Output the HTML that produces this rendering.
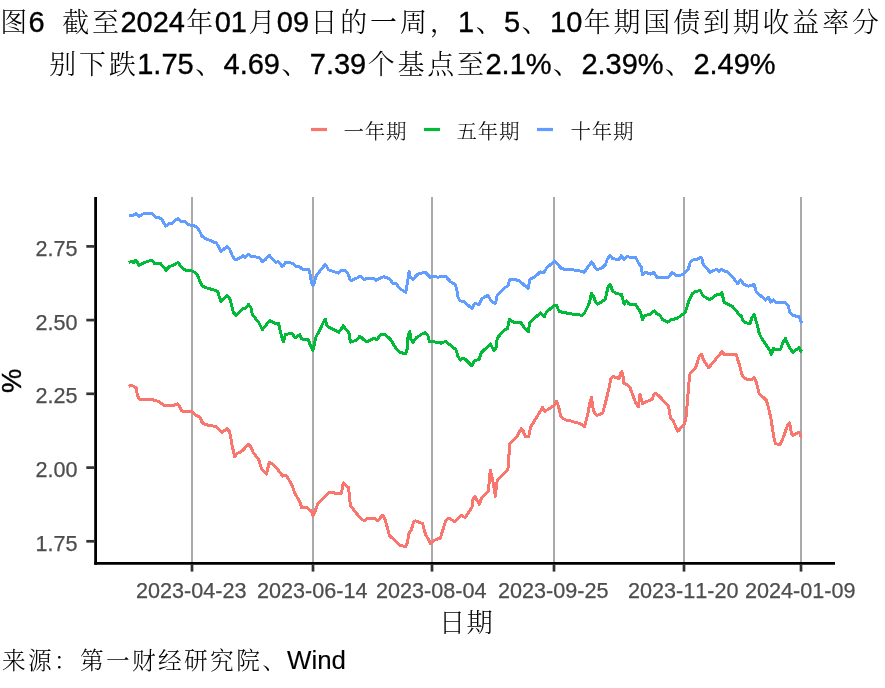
<!DOCTYPE html>
<html lang="zh-CN"><head><meta charset="utf-8"><title>图6</title>
<style>
html,body{margin:0;padding:0;background:#fff;}
body{width:885px;height:688px;overflow:hidden;position:relative;font-family:"Liberation Sans","Noto Serif CJK SC",sans-serif;}
svg{position:absolute;left:0;top:0;display:block}
svg text{font-family:"Liberation Sans","Noto Serif CJK SC",sans-serif;font-kerning:none;font-variant-ligatures:none;white-space:pre;}
.c{font-weight:300}
.t{font-size:29.45px;fill:#000;color:#000}
.ax{font-size:21.6px;fill:#4d4d4d;color:#4d4d4d;stroke:#4d4d4d;stroke-width:0.25px}
.lg{font-size:21.33px;fill:#000}
.cap{font-size:25.9px;fill:#000;color:#000}
</style></head><body>
<svg width="885" height="688" viewBox="0 0 885 688">
<rect width="885" height="688" fill="#fff"/>
<g class="t">
<text x="-1.3" y="32"><tspan class="c" dx="1.44" style="font-size:26.95px;letter-spacing:2.87px">图</tspan><tspan dx="-1.44" style="font-size:29.00px" stroke="currentColor" stroke-width="0.35">6  </tspan><tspan class="c" dx="1.44" style="font-size:26.95px;letter-spacing:2.87px">截至</tspan><tspan dx="-1.44" style="font-size:29.00px" stroke="currentColor" stroke-width="0.35">2024</tspan><tspan class="c" dx="1.44" style="font-size:26.95px;letter-spacing:2.87px">年</tspan><tspan dx="-1.44" style="font-size:29.00px" stroke="currentColor" stroke-width="0.35">01</tspan><tspan class="c" dx="1.44" style="font-size:26.95px;letter-spacing:2.87px">月</tspan><tspan dx="-1.44" style="font-size:29.00px" stroke="currentColor" stroke-width="0.35">09</tspan><tspan class="c" dx="1.44" style="font-size:26.95px;letter-spacing:2.87px">日的一周，</tspan><tspan dx="-1.44" style="font-size:29.00px" stroke="currentColor" stroke-width="0.35">1</tspan><tspan class="c" dx="1.44" style="font-size:26.95px;letter-spacing:2.87px">、</tspan><tspan dx="-1.44" style="font-size:29.00px" stroke="currentColor" stroke-width="0.35">5</tspan><tspan class="c" dx="1.44" style="font-size:26.95px;letter-spacing:2.87px">、</tspan><tspan dx="-1.44" style="font-size:29.00px" stroke="currentColor" stroke-width="0.35">10</tspan><tspan class="c" dx="1.44" style="font-size:26.95px;letter-spacing:2.87px">年期国债到期收益率分</tspan></text>
<text x="47.8" y="74.3"><tspan class="c" dx="1.44" style="font-size:26.95px;letter-spacing:2.87px">别下跌</tspan><tspan dx="-1.44" style="font-size:29.00px" stroke="currentColor" stroke-width="0.35">1.75</tspan><tspan class="c" dx="1.44" style="font-size:26.95px;letter-spacing:2.87px">、</tspan><tspan dx="-1.44" style="font-size:29.00px" stroke="currentColor" stroke-width="0.35">4.69</tspan><tspan class="c" dx="1.44" style="font-size:26.95px;letter-spacing:2.87px">、</tspan><tspan dx="-1.44" style="font-size:29.00px" stroke="currentColor" stroke-width="0.35">7.39</tspan><tspan class="c" dx="1.44" style="font-size:26.95px;letter-spacing:2.87px">个基点至</tspan><tspan dx="-1.44" style="font-size:29.00px" stroke="currentColor" stroke-width="0.35">2.1%</tspan><tspan class="c" dx="1.44" style="font-size:26.95px;letter-spacing:2.87px">、</tspan><tspan dx="-1.44" style="font-size:29.00px" stroke="currentColor" stroke-width="0.35">2.39%</tspan><tspan class="c" dx="1.44" style="font-size:26.95px;letter-spacing:2.87px">、</tspan><tspan dx="-1.44" style="font-size:29.00px" stroke="currentColor" stroke-width="0.35">2.49%</tspan></text>
</g>
<g class="lg">
<line x1="311" y1="129.5" x2="327" y2="129.5" stroke="#F8766D" stroke-width="3.2"/>
<text x="343" y="138.6"><tspan class="c" dx="0.43" style="font-size:20.48px;letter-spacing:0.85px">一年期</tspan></text>
<line x1="424" y1="129.5" x2="440" y2="129.5" stroke="#00BA38" stroke-width="3.2"/>
<text x="456" y="138.6"><tspan class="c" dx="0.43" style="font-size:20.48px;letter-spacing:0.85px">五年期</tspan></text>
<line x1="537" y1="129.5" x2="553" y2="129.5" stroke="#619CFF" stroke-width="3.2"/>
<text x="570" y="138.6"><tspan class="c" dx="0.43" style="font-size:20.48px;letter-spacing:0.85px">十年期</tspan></text>
</g>
<line x1="192" y1="197" x2="192" y2="563" stroke="#aaaaaa" stroke-width="2"/><line x1="313" y1="197" x2="313" y2="563" stroke="#aaaaaa" stroke-width="2"/><line x1="432" y1="197" x2="432" y2="563" stroke="#aaaaaa" stroke-width="2"/><line x1="554" y1="197" x2="554" y2="563" stroke="#aaaaaa" stroke-width="2"/><line x1="684" y1="197" x2="684" y2="563" stroke="#aaaaaa" stroke-width="2"/><line x1="801" y1="197" x2="801" y2="563" stroke="#aaaaaa" stroke-width="2"/>
<polyline points="129.2,215.6 133.6,215.2 136.0,213.3 139.0,216.5 142.4,214.2 145.5,213.3 148.8,214.0 152.0,213.3 155.0,216.9 158.2,217.6 161.5,218.7 163.1,221.7 165.8,226.0 168.8,223.7 172.2,223.3 175.3,220.3 178.0,218.3 181.3,221.7 184.5,221.4 187.8,224.1 191.1,225.4 194.3,225.8 197.6,227.8 200.0,231.9 202.0,236.3 205.4,238.6 208.8,240.0 212.2,241.4 216.5,243.1 218.3,246.1 221.0,251.5 227.1,246.5 229.8,249.5 232.5,256.3 235.2,259.9 240.0,258.0 242.9,255.5 245.2,257.3 248.3,254.2 251.7,256.5 255.1,256.9 259.1,257.5 262.5,261.9 265.5,259.6 269.1,255.1 272.3,258.6 275.8,262.3 278.5,261.6 282.2,266.4 283.6,265.7 285.6,262.3 289.0,262.3 292.4,263.4 295.8,266.4 299.1,266.4 302.5,269.3 308.6,269.3 310.0,273.8 311.4,281.9 313.0,285.3 314.3,283.3 315.7,276.5 324.9,264.6 326.5,265.7 328.3,269.8 333.1,271.4 338.5,273.1 341.9,270.0 345.2,270.4 348.0,273.8 350.2,279.9 351.5,280.3 356.9,278.1 360.1,276.2 364.4,279.5 367.1,278.1 373.9,278.1 376.3,280.3 380.0,278.1 383.7,276.8 386.8,277.6 390.2,279.5 392.9,283.3 395.9,283.3 399.7,288.5 405.8,292.5 407.1,284.7 409.1,271.8 410.2,276.5 412.9,279.5 417.3,274.5 421.4,273.1 425.1,272.2 430.2,277.2 433.6,276.2 437.6,277.1 445.8,276.5 450.5,281.7 455.2,284.7 456.9,290.1 458.0,296.9 460.0,300.9 463.6,301.2 472.0,308.6 474.7,303.5 479.1,304.4 481.9,298.7 487.7,295.3 490.7,300.1 493.4,302.8 495.4,303.5 497.2,295.3 504.2,287.9 508.0,285.9 509.7,279.8 515.1,279.5 519.8,281.1 528.0,288.6 530.0,279.1 535.4,276.4 540.2,271.9 543.6,273.0 546.5,268.2 554.4,261.0 561.2,268.2 565.2,269.6 570.0,269.6 573.6,270.0 579.0,270.8 584.4,272.2 591.5,261.9 593.2,264.1 595.5,268.4 597.7,269.5 602.0,268.1 605.4,264.6 607.5,258.9 610.2,255.5 612.9,258.9 619.0,259.2 621.3,255.5 623.7,259.6 626.4,256.9 635.7,257.3 638.6,263.2 641.4,267.0 642.4,274.5 645.4,272.2 650.9,274.1 653.8,272.2 657.0,277.2 660.3,277.2 668.5,277.2 671.9,272.5 675.9,275.2 680.0,275.4 683.6,274.1 688.3,268.9 690.3,262.1 692.4,260.1 697.1,259.1 700.5,257.4 701.9,258.7 703.2,264.1 710.0,272.3 713.4,270.5 716.8,269.6 719.1,271.3 721.8,269.2 724.2,270.9 727.6,271.9 733.0,277.3 737.8,283.8 740.5,279.8 743.9,284.5 748.6,286.2 754.1,284.5 756.1,291.3 759.5,294.7 765.6,300.1 768.3,297.1 771.0,302.1 773.3,299.8 775.8,302.5 784.6,302.5 788.0,305.5 790.0,312.3 792.8,315.5 798.9,316.6 800.5,320.0 801.6,323.4" fill="none" stroke="#619CFF" stroke-width="3.0" stroke-linejoin="round" stroke-linecap="butt" shape-rendering="crispEdges"/>
<polyline points="128.8,262.6 131.5,261.3 133.6,262.4 136.0,260.1 139.0,265.4 142.4,263.5 145.8,262.1 148.8,261.0 152.0,260.3 155.0,264.0 158.2,263.5 160.7,263.7 166.1,270.2 169.5,266.4 172.9,265.4 178.0,262.4 181.0,266.4 184.4,269.8 187.8,270.5 191.1,270.5 194.3,272.1 197.6,275.2 200.0,281.4 202.0,285.7 205.4,287.5 212.2,289.5 217.6,291.1 219.0,295.8 221.0,301.5 227.1,295.5 230.1,299.1 233.2,312.0 235.9,315.4 243.1,308.6 245.4,308.0 248.5,304.6 250.8,307.3 252.2,314.1 259.0,322.9 262.4,329.7 269.8,320.4 274.3,323.1 278.6,323.6 281.4,335.8 283.4,341.9 285.4,334.4 292.2,333.5 294.9,337.8 299.7,334.8 301.7,338.9 308.5,339.8 310.5,345.9 312.8,350.7 314.6,343.2 315.9,337.1 320.0,329.7 323.3,322.3 325.2,319.1 326.9,325.5 330.3,328.0 338.8,332.3 343.2,325.9 346.6,330.0 349.1,333.1 350.4,342.2 356.1,340.4 359.9,336.1 363.6,339.5 367.2,341.8 371.0,339.5 374.4,338.5 376.7,339.9 381.2,334.1 383.9,334.1 388.6,337.5 392.0,341.2 394.8,346.7 399.8,352.4 405.6,353.7 407.4,348.3 407.9,337.5 409.7,331.4 411.0,339.5 413.1,342.2 416.4,337.7 421.9,334.1 425.2,332.7 427.7,334.8 429.3,341.5 431.5,341.5 436.3,342.2 441.0,343.1 446.0,341.2 449.1,344.2 455.9,349.7 458.0,356.4 460.4,360.2 462.0,358.1 465.4,359.4 471.8,365.7 474.9,360.2 479.0,359.8 481.0,353.1 490.2,344.0 491.9,346.9 493.9,350.3 495.9,348.3 497.3,338.1 504.1,330.0 507.5,328.6 509.5,319.1 513.6,322.3 521.0,322.5 524.4,328.0 528.2,331.8 529.8,322.5 540.0,313.3 540.6,312.9 544.2,316.9 546.3,312.2 554.1,305.4 556.4,305.4 559.1,311.2 561.9,312.2 572.0,314.0 582.2,315.3 584.2,313.6 588.3,305.4 589.7,302.0 591.3,293.2 593.7,296.6 595.4,301.8 597.1,304.1 601.2,302.3 605.2,299.3 608.0,287.1 610.3,284.7 612.7,291.2 616.1,293.2 621.5,294.6 624.2,304.1 626.5,300.7 629.0,304.1 635.5,304.5 640.5,312.2 642.5,319.7 644.6,315.6 650.0,314.2 654.6,310.7 657.0,314.1 659.7,314.8 662.4,319.5 667.8,322.2 671.2,319.5 675.9,318.8 680.7,316.1 685.4,312.0 688.8,301.2 692.2,293.7 695.6,291.4 700.3,290.6 703.0,295.8 709.8,299.8 717.3,294.1 719.3,294.7 722.0,292.8 724.1,302.3 732.2,306.3 737.0,311.4 739.0,314.8 741.0,315.4 743.0,320.9 745.8,322.6 750.1,324.0 751.9,317.5 754.2,314.8 756.9,323.6 759.3,333.7 762.0,338.8 769.4,349.7 771.4,354.4 773.5,348.3 775.9,349.7 780.5,349.4 783.0,342.2 785.4,338.5 788.4,345.6 792.7,352.6 797.2,349.0 799.2,347.6 800.6,351.0 802.0,351.7" fill="none" stroke="#00BA38" stroke-width="3.0" stroke-linejoin="round" stroke-linecap="butt" shape-rendering="crispEdges"/>
<polyline points="128.8,386.5 131.5,385.2 136.0,387.6 137.6,395.8 139.0,399.1 149.2,399.1 155.9,400.5 160.0,402.3 164.8,405.9 172.2,405.9 177.6,403.9 179.7,406.6 181.7,410.7 183.7,411.8 189.8,411.8 191.6,410.9 195.9,415.4 200.0,417.2 202.0,422.2 204.8,424.5 216.3,426.7 222.0,432.4 227.1,428.6 229.6,431.7 232.5,447.3 234.6,456.8 236.9,453.4 240.0,452.4 242.9,450.3 248.3,444.2 251.0,446.9 253.1,452.4 258.8,459.8 261.5,468.6 266.3,474.1 269.3,462.5 272.3,463.9 277.5,469.3 282.9,476.1 285.9,475.4 288.3,478.8 292.1,485.3 294.4,492.4 299.8,501.9 301.9,508.0 307.3,507.6 311.4,511.4 313.0,516.1 314.8,512.0 318.1,503.2 329.0,492.6 333.7,492.4 335.8,493.5 341.5,493.1 343.2,482.9 348.6,487.6 349.8,500.2 350.6,505.7 357.4,514.5 362.4,519.9 365.1,520.3 367.1,518.1 374.6,518.1 378.0,520.9 380.7,517.2 382.7,515.4 384.8,518.6 389.5,535.5 400.3,545.7 405.8,546.4 407.5,542.3 409.1,532.8 411.2,530.1 413.9,521.3 415.9,520.9 422.7,523.6 425.4,534.1 430.6,543.6 433.6,540.7 437.4,538.9 440.3,538.2 445.8,520.6 448.5,518.1 455.0,521.7 460.0,516.8 461.0,515.4 465.1,517.5 467.8,513.7 471.9,507.6 473.2,498.1 475.0,496.8 479.3,504.2 481.4,498.5 488.5,490.9 489.5,477.1 490.4,470.3 493.6,484.6 495.3,496.4 497.2,480.5 507.8,470.1 508.6,461.0 509.7,444.1 516.4,437.3 521.2,428.8 523.2,431.2 525.2,436.6 528.6,436.6 530.7,427.1 536.8,416.9 540.6,410.9 542.5,407.1 544.6,411.5 554.4,405.4 556.4,401.4 558.5,406.1 560.5,415.6 562.5,418.3 566.6,420.3 570.0,420.6 574.9,422.4 580.3,423.5 584.4,426.7 587.8,414.2 589.8,403.4 591.5,397.3 593.2,409.5 595.5,414.2 597.3,415.3 602.7,413.1 604.8,405.4 608.1,391.9 610.9,379.0 612.9,376.3 619.0,378.7 620.3,373.6 621.7,371.5 623.0,376.3 623.7,383.1 627.1,384.7 629.8,387.1 635.9,403.4 638.4,406.8 640.0,394.6 642.4,403.7 648.1,400.9 652.2,399.3 653.8,394.6 655.6,393.2 659.0,395.9 668.5,406.1 670.5,417.6 673.2,421.0 677.7,431.2 680.0,428.9 684.6,423.6 686.0,416.9 687.6,399.2 688.7,384.3 690.1,373.5 695.8,367.4 699.1,356.5 701.5,354.2 703.6,359.9 708.6,367.8 722.2,351.5 724.2,354.8 736.4,354.8 739.1,364.0 742.5,376.2 745.9,378.9 750.7,380.0 754.1,377.5 756.1,381.6 759.2,393.5 766.3,400.3 768.5,407.3 771.2,420.2 773.9,437.8 775.5,443.9 780.4,444.3 783.1,437.8 787.5,425.6 789.5,422.6 791.5,433.7 793.1,435.4 797.0,433.1 799.4,432.4 800.8,436.4 801.8,437.1" fill="none" stroke="#F8766D" stroke-width="3.0" stroke-linejoin="round" stroke-linecap="butt" shape-rendering="crispEdges"/>
<line x1="95.6" y1="197" x2="95.6" y2="564.7" stroke="#000" stroke-width="2.8"/>
<line x1="94.2" y1="563.3" x2="835" y2="563.3" stroke="#000" stroke-width="2.8"/>
<line x1="192" y1="564" x2="192" y2="571.6" stroke="#333" stroke-width="2.7"/><line x1="313" y1="564" x2="313" y2="571.6" stroke="#333" stroke-width="2.7"/><line x1="432" y1="564" x2="432" y2="571.6" stroke="#333" stroke-width="2.7"/><line x1="554" y1="564" x2="554" y2="571.6" stroke="#333" stroke-width="2.7"/><line x1="684" y1="564" x2="684" y2="571.6" stroke="#333" stroke-width="2.7"/><line x1="801" y1="564" x2="801" y2="571.6" stroke="#333" stroke-width="2.7"/><line x1="86.3" y1="246.4" x2="95" y2="246.4" stroke="#333" stroke-width="2.7"/><line x1="86.3" y1="320.1" x2="95" y2="320.1" stroke="#333" stroke-width="2.7"/><line x1="86.3" y1="393.8" x2="95" y2="393.8" stroke="#333" stroke-width="2.7"/><line x1="86.3" y1="467.6" x2="95" y2="467.6" stroke="#333" stroke-width="2.7"/><line x1="86.3" y1="541.3" x2="95" y2="541.3" stroke="#333" stroke-width="2.7"/>
<g class="ax"><text x="191.3" y="597.6" text-anchor="middle">2023-04-23</text><text x="312.3" y="597.6" text-anchor="middle">2023-06-14</text><text x="431.3" y="597.6" text-anchor="middle">2023-08-04</text><text x="553.3" y="597.6" text-anchor="middle">2023-09-25</text><text x="683.3" y="597.6" text-anchor="middle">2023-11-20</text><text x="800.3" y="597.6" text-anchor="middle">2024-01-09</text><text x="77.6" y="255.8" text-anchor="end">2.75</text><text x="77.6" y="329.5" text-anchor="end">2.50</text><text x="77.6" y="403.2" text-anchor="end">2.25</text><text x="77.6" y="477.0" text-anchor="end">2.00</text><text x="77.6" y="550.7" text-anchor="end">1.75</text></g>
<text class="cap" x="11.3" y="390.4" transform="rotate(-90 11.3 380.9)" text-anchor="middle" style="font-size:27.4px" stroke="#000" stroke-width="0.4">%</text>
<text class="t" x="438.3" y="632.0" style="font-size:27.6px"><tspan class="c" dx="0.69" style="font-size:26.22px;letter-spacing:1.38px">日期</tspan></text>
<text class="cap" x="0.8" y="668.8"><tspan class="c" dx="1.17" style="font-size:23.70px;letter-spacing:2.33px">来源：第一财经研究院、</tspan><tspan dx="-1.17" style="font-size:25.90px" stroke="currentColor" stroke-width="0.12">Wind</tspan></text>
</svg>
</body></html>
